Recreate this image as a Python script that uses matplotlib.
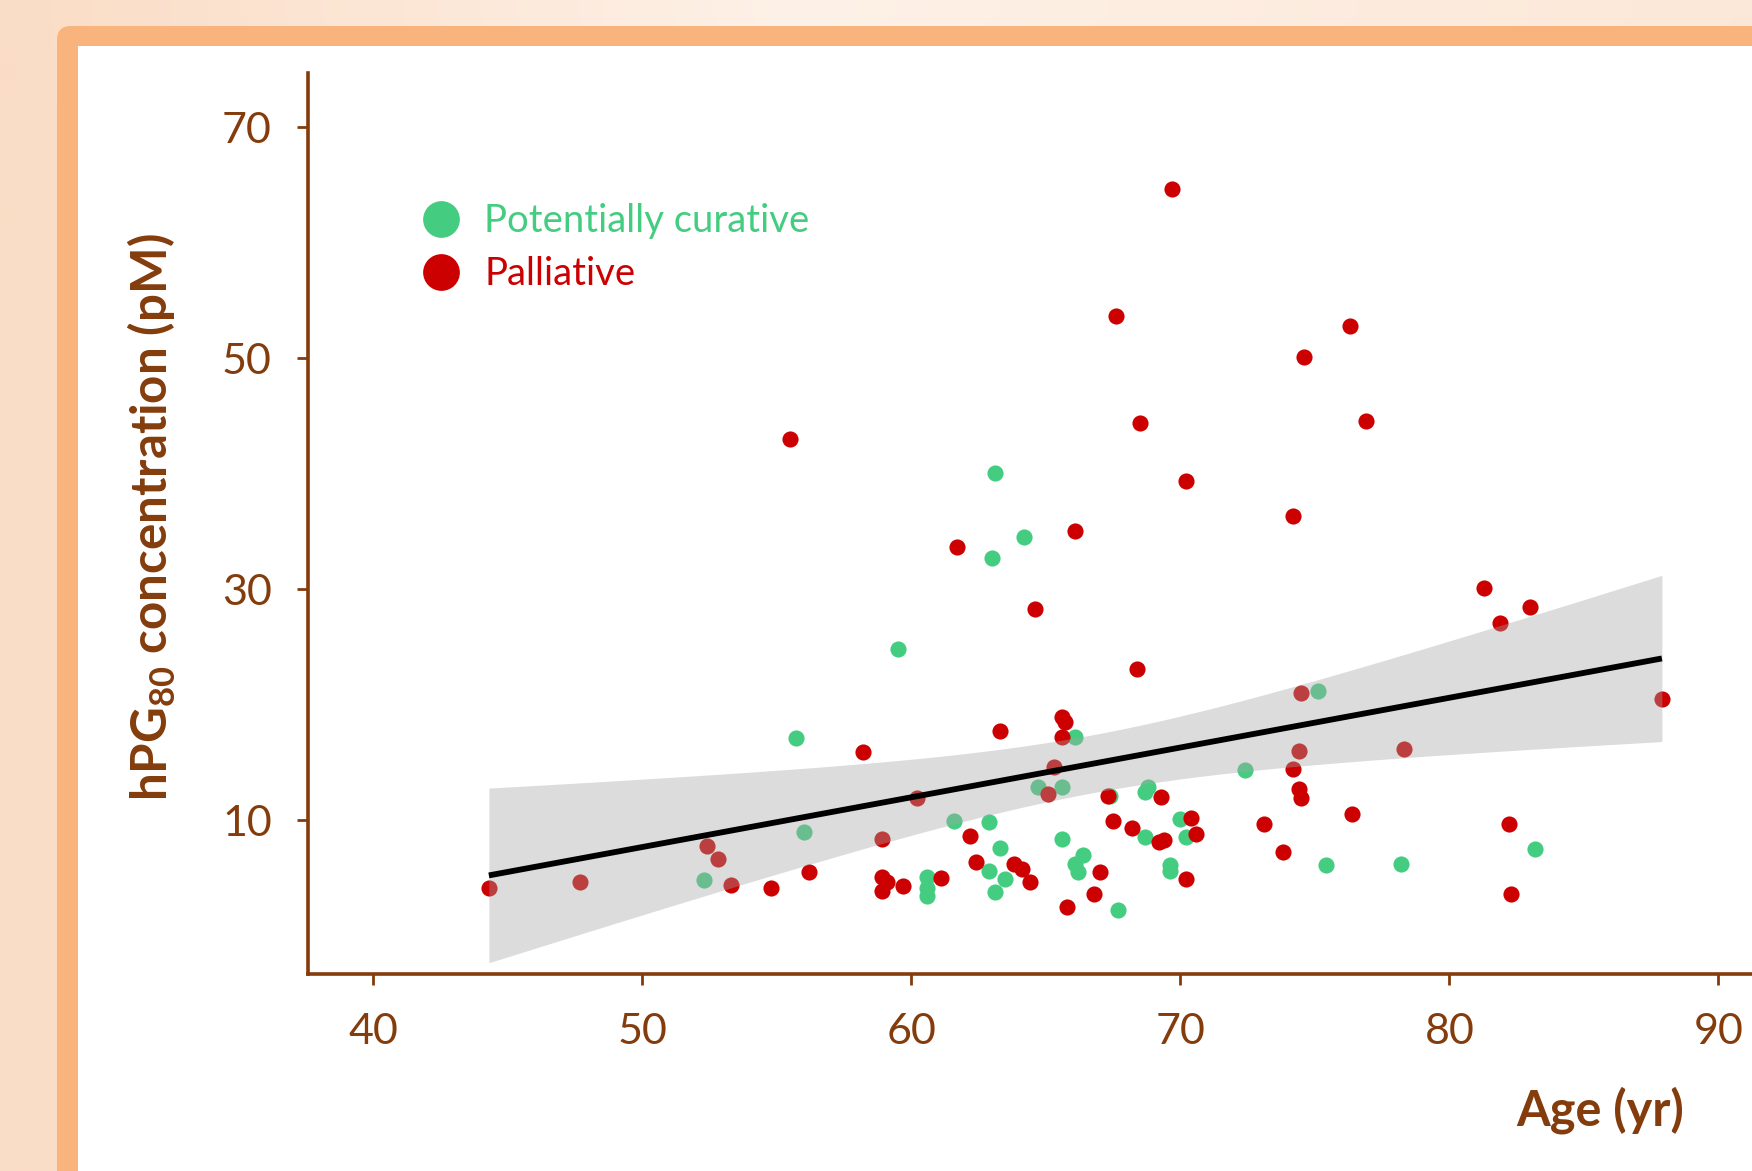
import numpy as np
import matplotlib
matplotlib.use("Agg")
import matplotlib.pyplot as plt
from matplotlib.patches import FancyBboxPatch, Rectangle

plt.rcParams['font.family'] = ['Lato', 'DejaVu Sans']
plt.rcParams['mathtext.fontset'] = 'custom'
plt.rcParams['mathtext.rm'] = 'Lato'
plt.rcParams['mathtext.bf'] = 'Lato:bold'

# ---------------- data ----------------
palliative_age = [44.3, 47.7, 52.4, 52.8, 53.3, 54.8, 55.5, 56.2, 58.2, 58.9,
                  58.9, 59.1, 58.9, 59.7, 60.2, 61.1, 61.7, 62.2, 62.4, 63.3,
                  63.8, 64.1, 64.4, 64.6, 65.1, 65.3, 65.6, 65.7, 65.6, 65.8,
                  66.1, 66.8, 67.0, 67.3, 67.5, 67.6, 68.2, 68.4, 68.5, 69.3,
                  69.2, 69.4, 69.7, 70.2, 70.4, 70.6, 70.2, 73.1, 73.8, 74.2,
                  74.2, 74.4, 74.5, 74.4, 74.5, 74.6, 76.3, 76.4, 76.9, 78.3,
                  81.3, 81.9, 83.0, 82.2, 82.3, 87.9]
palliative_val = [4.1, 4.6, 7.8, 6.6, 4.4, 4.1, 43.0, 5.5, 15.9, 8.4,
                  5.1, 4.6, 3.9, 4.3, 11.9, 5.0, 33.7, 8.6, 6.4, 17.7,
                  6.2, 5.8, 4.6, 28.3, 12.3, 14.6, 18.9, 18.5, 17.2, 2.5,
                  35.0, 3.6, 5.5, 12.1, 9.9, 53.7, 9.3, 23.1, 44.4, 12.0,
                  8.1, 8.3, 64.7, 39.4, 10.2, 8.8, 4.9, 9.7, 7.2, 36.3,
                  14.4, 12.7, 11.9, 16.0, 21.0, 50.1, 52.8, 10.5, 44.6, 16.2,
                  30.1, 27.1, 28.5, 9.7, 3.6, 20.5]
curative_age = [52.3, 55.7, 56.0, 59.5, 60.6, 60.6, 60.6, 61.6, 62.9, 62.9,
                63.0, 63.1, 63.3, 63.5, 63.1, 64.2, 64.7, 65.6, 65.6, 66.1,
                66.1, 66.2, 66.4, 67.4, 67.7, 68.7, 68.8, 68.7, 69.6, 69.6,
                70.0, 70.2, 72.4, 75.1, 75.4, 78.2, 83.2]
curative_val = [4.8, 17.1, 9.0, 24.8, 5.1, 4.1, 3.4, 9.9, 9.8, 5.6,
                32.7, 40.1, 7.6, 4.9, 3.8, 34.5, 12.9, 12.9, 8.4, 17.2,
                6.2, 5.5, 7.0, 12.1, 2.2, 12.4, 12.9, 8.5, 6.1, 5.6,
                10.1, 8.5, 14.3, 21.2, 6.1, 6.2, 7.5]
x_ticks = [40, 50, 60, 70, 80, 90]
y_ticks = [10, 30, 50, 70]
legend_labels = ["Potentially curative", "Palliative"]

GREEN = '#44CD80'
RED = '#CC0000'
BROWN = '#843C0C'

# ---------------- figure & background ----------------
W, H = 1752, 1171
fig = plt.figure(figsize=(W / 100, H / 100), dpi=100)
bg = fig.add_axes([0, 0, 1, 1])
bg.set_xlim(0, W)
bg.set_ylim(H, 0)
bg.axis('off')

xs = np.linspace(0, 1, 60)
left_c = np.array([250, 221, 198]) / 255
mid_c = np.array([254, 241, 231]) / 255
right_c = np.array([252, 232, 216]) / 255
row = np.array([np.interp(xs, [0, 0.45, 1.0], [left_c[k], mid_c[k], right_c[k]]) for k in range(3)]).T
ys = np.linspace(0, 1, 40)[:, None, None]
grad = row[None, :, :] * (1 - ys) + left_c[None, None, :] * ys
bg.imshow(grad, extent=[0, W, H, 0], aspect='auto', interpolation='bilinear', zorder=0)

bg.add_patch(FancyBboxPatch((57, 26), 1800, 1300, boxstyle='round,pad=0,rounding_size=14',
                            fc='#F8B47C', ec='none', zorder=1))
bg.add_patch(Rectangle((78, 46), 1800, 1300, fc='white', ec='none', zorder=2))

# legend (manual)
for i, (lab, col) in enumerate(zip(legend_labels, [GREEN, RED])):
    yy = 219 + 53 * i
    bg.scatter([441], [yy], s=700, color=col, zorder=3, linewidths=0)
    bg.text(484, yy + 2, lab, color=col, fontsize=27.5, va='center', ha='left', zorder=3)

bg.text(152, 517, r'hPG$_{\mathbf{80}}$ concentration (pM)', rotation=90, ha='center', va='center',
        color=BROWN, fontsize=35.5, fontweight='bold', zorder=3)
bg.text(1600, 1110, 'Age (yr)', ha='center', va='center', color=BROWN,
        fontsize=35, fontweight='bold', zorder=3)

# ---------------- main axes ----------------
ax = fig.add_axes([308 / W, (H - 974) / H, 1464.2 / W, (974 - 72.6) / H])
ax.patch.set_alpha(0)
ax.set_xlim(37.577, 92)
ax.set_ylim(-3.33, 74.75)

ax.scatter(curative_age, curative_val, s=135, color=GREEN, linewidths=0, zorder=2)
ax.scatter(palliative_age, palliative_val, s=135, color=RED, linewidths=0, zorder=2)

# pooled linear regression with 95% confidence band
xa = np.array(palliative_age + curative_age)
ya = np.array(palliative_val + curative_val)
n = len(xa)
b1, b0 = np.polyfit(xa, ya, 1)
resid = ya - (b0 + b1 * xa)
s = np.sqrt(np.sum(resid ** 2) / (n - 2))
xbar = xa.mean()
sxx = np.sum((xa - xbar) ** 2)
xg = np.linspace(xa.min(), xa.max(), 200)
yg = b0 + b1 * xg
hw = 1.984 * s * np.sqrt(1 / n + (xg - xbar) ** 2 / sxx)
ax.fill_between(xg, yg - hw, yg + hw, color=(165 / 255, 165 / 255, 165 / 255), alpha=0.39,
                linewidth=0, zorder=3)
ax.plot(xg, yg, color='black', lw=4.2, zorder=4, solid_capstyle='butt')

for side in ['top', 'right']:
    ax.spines[side].set_visible(False)
for side in ['left', 'bottom']:
    ax.spines[side].set_color(BROWN)
    ax.spines[side].set_linewidth(2.6)

ax.set_xticks(x_ticks)
ax.set_yticks(y_ticks)
ax.tick_params(axis='both', direction='out', length=8, width=2, color=BROWN,
               labelcolor=BROWN, labelsize=31)
ax.tick_params(axis='y', pad=18)
ax.tick_params(axis='x', pad=20)

fig.savefig('out.png', dpi=100)
